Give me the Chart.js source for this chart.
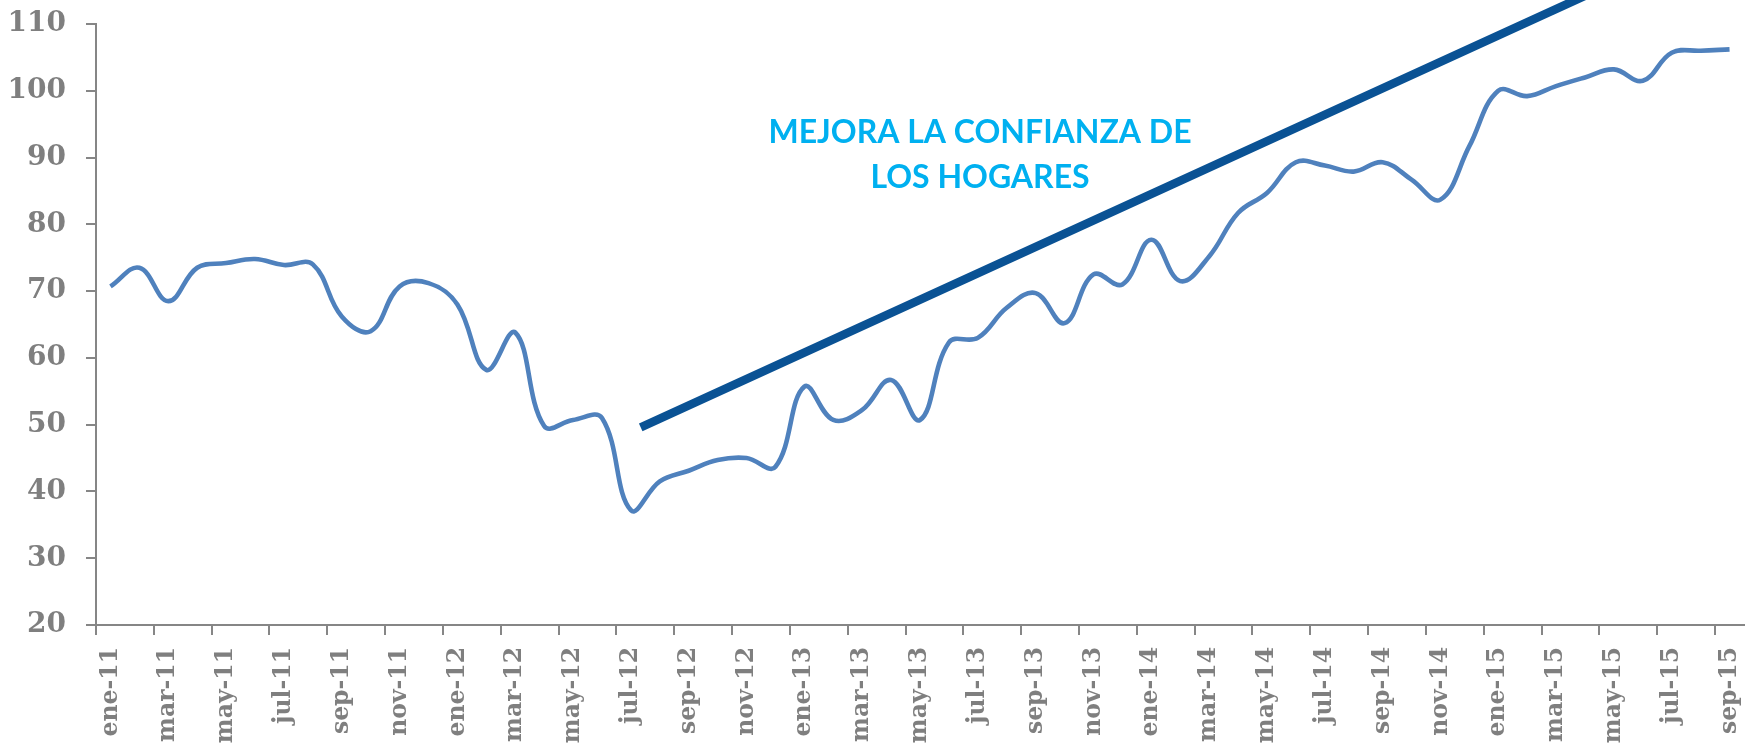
<!DOCTYPE html>
<html>
<head>
<meta charset="utf-8">
<title>Confianza de los hogares</title>
<script src="https://cdn.jsdelivr.net/npm/chart.js@4.4.0/dist/chart.umd.min.js"></script>
<style>
    html, body { margin: 0; padding: 0; background: #ffffff; }
    #wrap { width: 1746px; height: 755px; position: relative; }
</style>
</head>
<body>
<div id="wrap"><canvas id="confianzaChart"></canvas></div>
<script>
// Meses (categorias del eje x)
const meses = [
    'ene-11', 'feb-11', 'mar-11', 'abr-11', 'may-11', 'jun-11', 'jul-11', 'ago-11', 'sep-11', 'oct-11', 'nov-11', 'dic-11',
    'ene-12', 'feb-12', 'mar-12', 'abr-12', 'may-12', 'jun-12', 'jul-12', 'ago-12', 'sep-12', 'oct-12', 'nov-12', 'dic-12',
    'ene-13', 'feb-13', 'mar-13', 'abr-13', 'may-13', 'jun-13', 'jul-13', 'ago-13', 'sep-13', 'oct-13', 'nov-13', 'dic-13',
    'ene-14', 'feb-14', 'mar-14', 'abr-14', 'may-14', 'jun-14', 'jul-14', 'ago-14', 'sep-14', 'oct-14', 'nov-14', 'dic-14',
    'ene-15', 'feb-15', 'mar-15', 'abr-15', 'may-15', 'jun-15', 'jul-15', 'ago-15', 'sep-15'
];

// Indice de confianza de los hogares
const confianza = [
    70.7, 73.5, 68.5, 73.5, 74.2, 74.8, 73.9, 74.0, 66.2, 64.0, 70.7, 71.2,
    68.0, 58.2, 63.8, 49.8, 50.7, 51.0, 37.2, 41.5, 43.1, 44.7, 45.0, 43.7,
    55.7, 50.7, 52.2, 56.7, 50.7, 62.3, 63.0, 67.5, 69.7, 65.2, 72.5, 71.0,
    77.7, 71.5, 75.2, 81.7, 84.7, 89.3, 88.8, 87.9, 89.3, 86.7, 83.7, 91.7,
    100.0, 99.2, 100.7, 102.0, 103.2, 101.5, 105.7, 106.0, 106.2
];

// Linea de tendencia (posicion en meses desde ene-11, valor)
const tendenciaX = [18.34, 52];
const tendenciaY = [49.6, 116.2];

// Ticks del eje y
const yMin = 20;
const yMax = 110;
const yPaso = 10;

const anotacion = ['MEJORA LA CONFIANZA DE', 'LOS HOGARES'];

const gris = '#868686';
const grisTexto = '#7f7f7f';

// Texto de la anotacion
const textoPlugin = {
    id: 'textoAnotacion',
    afterDatasetsDraw(chart) {
        const c = chart.ctx;
        c.save();
        c.font = 'bold 32px Lato';
        c.fillStyle = '#00b0f0';
        c.textAlign = 'center';
        c.textBaseline = 'alphabetic';
        c.fillText(anotacion[0], 980, 143);
        c.fillText(anotacion[1], 980, 188);
        c.restore();
    }
};

const ctx = document.getElementById('confianzaChart').getContext('2d');

const chart = new Chart(ctx, {
    type: 'line',
    data: {
        labels: meses,
        datasets: [
            {
                label: 'Confianza',
                data: confianza,
                borderColor: '#4f81bd',
                borderWidth: 4.6,
                pointRadius: 0,
                tension: 0.4,
                fill: false
            },
            {
                label: 'Tendencia',
                xAxisID: 'x2',
                data: tendenciaX.map((x, i) => ({ x: x, y: tendenciaY[i] })),
                borderColor: '#0a5294',
                borderWidth: 8.5,
                borderCapStyle: 'butt',
                pointRadius: 0,
                tension: 0,
                clip: false
            }
        ]
    },
    options: {
        responsive: true,
        maintainAspectRatio: false,
        animation: false,
        layout: { padding: { top: 24, right: 2, left: 0, bottom: 0 } },
        plugins: {
            legend: { display: false },
            tooltip: { enabled: false }
        },
        scales: {
            x: {
                type: 'category',
                offset: true,
                border: { display: true, color: gris, width: 2 },
                grid: {
                    offset: true,
                    drawOnChartArea: false,
                    drawTicks: true,
                    tickLength: 10,
                    lineWidth: 2,
                    color: (c) => (c.index % 2 === 0 ? gris : 'rgba(0,0,0,0)')
                },
                ticks: {
                    autoSkip: false,
                    maxRotation: 90,
                    minRotation: 90,
                    padding: 12,
                    color: grisTexto,
                    font: { family: 'DejaVu Serif', size: 23.5, weight: 'bold' },
                    callback: function (val, i) {
                        return i % 2 === 0 ? this.getLabelForValue(val) : '';
                    }
                },
                afterFit: (s) => {
                    s.height = 130;
                    s.paddingLeft = 0;
                    s.paddingRight = 0;
                }
            },
            x2: {
                type: 'linear',
                display: false,
                min: -0.5,
                max: meses.length - 0.5
            },
            y: {
                min: yMin,
                max: yMax,
                border: { display: true, color: gris, width: 2 },
                grid: {
                    drawOnChartArea: false,
                    drawTicks: true,
                    tickLength: 10,
                    lineWidth: 2,
                    color: gris
                },
                ticks: {
                    stepSize: yPaso,
                    padding: 20,
                    color: grisTexto,
                    font: { family: 'DejaVu Serif', size: 28, weight: 'bold' }
                },
                afterFit: (s) => {
                    s.width = 96;
                    s.paddingTop = 0;
                    s.paddingBottom = 0;
                }
            }
        }
    },
    plugins: [textoPlugin]
});
</script>
</body>
</html>
